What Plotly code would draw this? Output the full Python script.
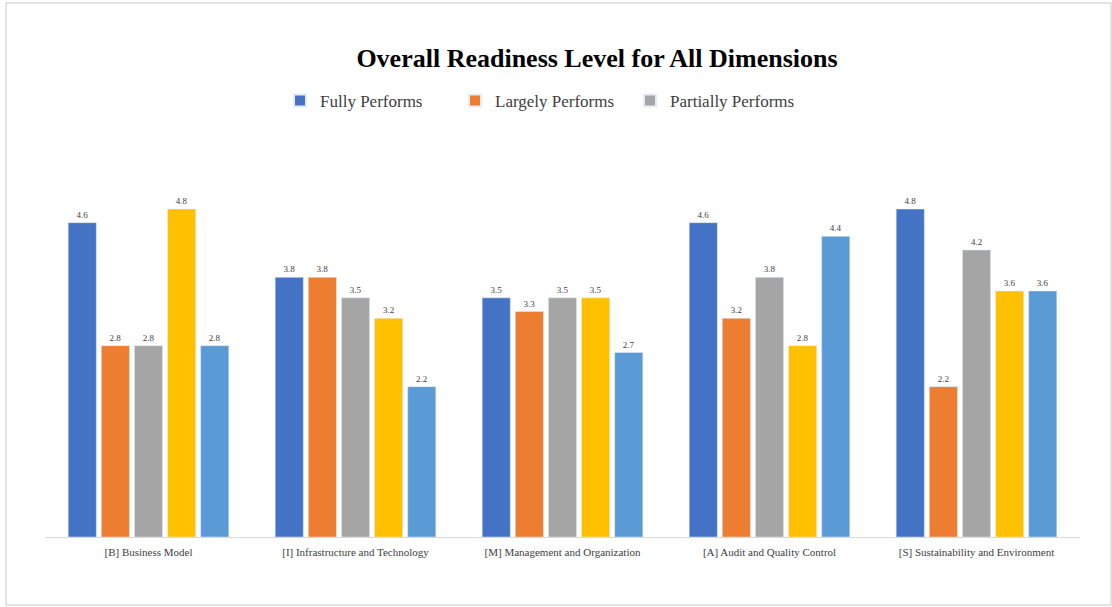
import plotly.graph_objects as go

categories = ["[B] Business Model", "[I] Infrastructure and Technology",
              "[M] Management and Organization", "[A] Audit and Quality Control",
              "[S] Sustainability and Environment"]
series_names = ["Fully Performs", "Largely Performs", "Partially Performs", "Series 4", "Series 5"]
fully = [4.6, 3.8, 3.5, 4.6, 4.8]
largely = [2.8, 3.8, 3.3, 3.2, 2.2]
partially = [2.8, 3.5, 3.5, 3.8, 4.2]
series4 = [4.8, 3.2, 3.5, 2.8, 3.6]
series5 = [2.8, 2.2, 2.7, 4.4, 3.6]
colors = ["#4472C4", "#ED7D31", "#A5A5A5", "#FFC000", "#5B9BD5"]
show = [True, True, True, False, False]

FONT = "Times New Roman, Liberation Serif, serif"
W, H = 1112, 607
L, R, T, B = 45, 32, 127, 70
ymax = 6.0

fig = go.Figure()
for name, vals, c, s in zip(series_names, [fully, largely, partially, series4, series5], colors, show):
    fig.add_trace(go.Bar(
        x=categories, y=vals, name=name, marker_color=c, showlegend=s,
        text=[f"{v:.1f}" for v in vals], textposition="outside",
        textfont=dict(family=FONT, size=9, color="#404040"),
        cliponaxis=False,
    ))

pw = W - L - R
ph = H - T - B
def px(x): return (x - L) / pw
def py(y): return (H - B - y) / ph

fig.update_layout(
    width=W, height=H,
    margin=dict(l=L, r=R, t=T, b=B),
    paper_bgcolor="white", plot_bgcolor="white",
    font=dict(family=FONT),
    barmode="group", bargap=0.2, bargroupgap=0.15,
    title=dict(text="<b>Overall Readiness Level for All Dimensions</b>",
               font=dict(family=FONT, size=26, color="black"),
               x=px(597), xref="paper", xanchor="center", y=1 - 58 / H, yanchor="middle"),
    legend=dict(orientation="h", x=px(280), xref="paper", y=py(101), yanchor="middle",
                font=dict(family=FONT, size=17, color="#404040"),
                entrywidth=130, entrywidthmode="pixels", itemsizing="constant",
                bgcolor="rgba(0,0,0,0)"),
    xaxis=dict(showline=True, linecolor="#D9D9D9", linewidth=1, ticks="",
               ticklabelstandoff=5,
               tickfont=dict(family=FONT, size=11, color="#404040"),
               showgrid=False),
    yaxis=dict(range=[0, ymax], visible=False, showgrid=False),
    shapes=[dict(type="rect", xref="paper", yref="paper",
                 x0=px(6), x1=px(1111), y0=py(605), y1=py(3),
                 line=dict(color="#D9D9D9", width=1.5), fillcolor="rgba(0,0,0,0)", layer="below")],
)

fig.write_html("out.html")
